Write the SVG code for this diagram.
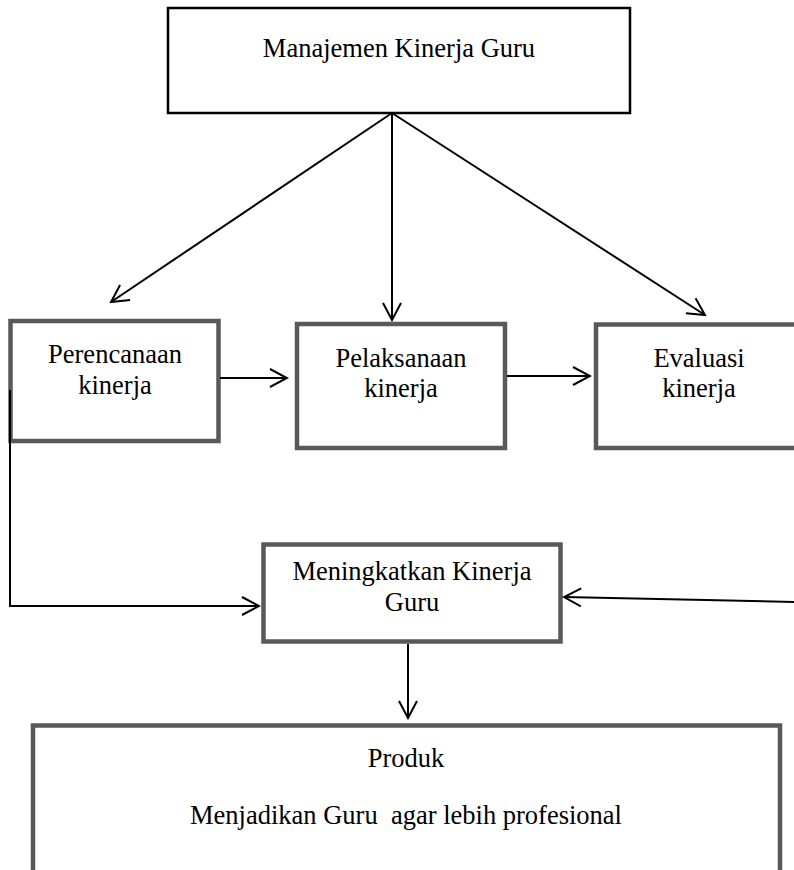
<svg xmlns="http://www.w3.org/2000/svg" width="794" height="870" viewBox="0 0 794 870">
<defs>
<marker id="arr" viewBox="0 0 20 20" markerWidth="20" markerHeight="20" refX="18" refY="10" orient="auto" markerUnits="userSpaceOnUse">
<path d="M1,1 L18,10 L1,19" fill="none" stroke="#000" stroke-width="2"/>
</marker>
</defs>
<style>
.t{font-family:"Liberation Serif","Times New Roman",serif;font-size:26.5px;fill:#000;text-anchor:middle}
.box{fill:#fff;stroke:#595959;stroke-width:4.5}
.top{fill:#fff;stroke:#000;stroke-width:2.5}
.c{fill:none;stroke:#000;stroke-width:2}
</style>
<rect width="794" height="870" fill="#fff"/>
<g id="n-manajemen">
<rect class="top" x="168" y="8" width="462" height="105"/>
<text class="t" x="399" y="57">Manajemen Kinerja Guru</text>
</g>
<g id="n-perencanaan">
<rect class="box" x="10.5" y="321" width="208" height="120"/>
<text class="t" x="115" y="363">Perencanaan</text>
<text class="t" x="115" y="394">kinerja</text>
</g>
<g id="n-pelaksanaan">
<rect class="box" x="297" y="324" width="208" height="124"/>
<text class="t" x="401" y="367">Pelaksanaan</text>
<text class="t" x="401" y="397">kinerja</text>
</g>
<g id="n-evaluasi">
<rect class="box" x="596" y="324.5" width="212" height="123.5"/>
<text class="t" x="699" y="367">Evaluasi</text>
<text class="t" x="699" y="397">kinerja</text>
</g>
<g id="n-meningkatkan">
<rect class="box" x="263.5" y="544.5" width="297" height="97"/>
<text class="t" x="412" y="580">Meningkatkan Kinerja</text>
<text class="t" x="412" y="611">Guru</text>
</g>
<g id="n-produk">
<rect class="box" x="33" y="725.5" width="747" height="180"/>
<text class="t" x="406" y="767">Produk</text>
<text class="t" x="406" y="824" xml:space="preserve">Menjadikan Guru  agar lebih profesional</text>
</g>
<g id="connectors">
<line class="c" x1="392" y1="113" x2="111" y2="302" marker-end="url(#arr)"/>
<line class="c" x1="392" y1="113" x2="392" y2="320" marker-end="url(#arr)"/>
<line class="c" x1="392" y1="113" x2="705" y2="315" marker-end="url(#arr)"/>
<line class="c" x1="220" y1="378" x2="287" y2="378" marker-end="url(#arr)"/>
<line class="c" x1="507" y1="376" x2="590" y2="376" marker-end="url(#arr)"/>
<polyline class="c" points="10,390 10,606 259,606" marker-end="url(#arr)"/>
<line class="c" x1="796" y1="602" x2="564" y2="597" marker-end="url(#arr)"/>
<line class="c" x1="408" y1="644" x2="408" y2="718" marker-end="url(#arr)"/>
</g>
</svg>
